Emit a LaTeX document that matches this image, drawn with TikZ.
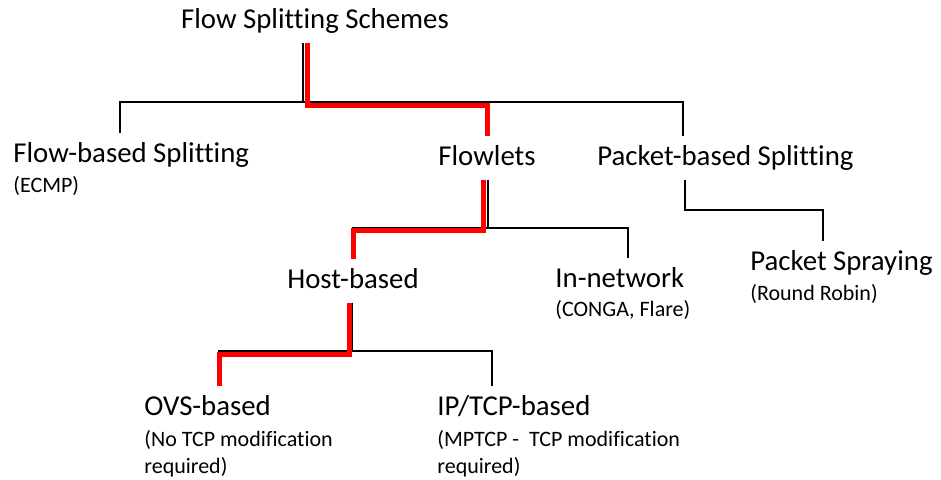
\documentclass[tikz,border=0pt]{standalone}
\usepackage{fontspec}
\setmainfont{Carlito}[Ligatures=NoCommon]
\begin{document}
\begin{tikzpicture}[x=0.5pt, y=-0.5pt, line join=miter,
    lbl/.style={font=\fontsize{14.4}{17}\selectfont, inner xsep=0pt, inner ysep=3.5pt,
      text height=10.8pt, text depth=3.6pt},
    note/.style={font=\fontsize{11}{13.5}\selectfont, inner sep=0pt, align=left},
    edge/.style={black, line width=1pt},
    hl/.style={red, line width=2.5pt}]
  \useasboundingbox (0,0) rectangle (941,479);

  % ====== Nodes ======
  \node[lbl, anchor=base] (root) at (315,28) {Flow Splitting Schemes};

  \node[lbl, anchor=base west] (fb) at (13,162) {Flow-based Splitting};
  \node[note, anchor=base west] (fbn) at (13,192) {(ECMP)};
  \node[lbl, anchor=base] (fl) at (487,165) {Flowlets};
  \node[lbl, anchor=base west] (pb) at (597,165) {Packet-based Splitting};

  \node[lbl, anchor=base] (hb) at (353,288) {Host-based};
  \node[lbl, anchor=base west] (in) at (555,287) {In-network};
  \node[note, anchor=base west] (inn) at (555,316) {(CONGA, Flare)};
  \node[lbl, anchor=base west] (ps) at (750,270) {Packet Spraying};
  \node[note, anchor=base west] (psn) at (750,300) {(Round Robin)};

  \node[lbl, anchor=base west] (ovs) at (144,415) {OVS-based};
  % two-line notes: base is the last line
  \node[note, anchor=base west] (ovsn) at (144,473) {(No TCP modification\\required)};
  \node[lbl, anchor=base west] (ip) at (437,415) {IP/TCP-based};
  \node[note, anchor=base west] (ipn) at (437,473) {(MPTCP -\ \ TCP modification\\required)};

  % ====== Bus points ======
  \coordinate (b1) at (303,102); \coordinate (dfb) at (120,102); \coordinate (dpb) at (683,102);
  \coordinate (b2) at (488,228); \coordinate (din) at (628,228);
  \coordinate (b3) at (685,210); \coordinate (dps) at (823,210);
  \coordinate (b4) at (352,351); \coordinate (dip) at (492,351); \coordinate (dovs) at (219,351);
  \coordinate (r1) at (307,105); \coordinate (r2) at (483,230); \coordinate (r4) at (349,354);

  % ====== Black tree ======
  \draw[edge] (root.south -| b1) -- (b1) -| (fb.north -| dfb);
  \draw[edge] (b1) -| (pb.north -| dpb);
  \draw[edge] (fl.south -| b2) -- (b2) -| (in.north -| din);
  \draw[edge] (b2) -| (hb.north);
  \draw[edge] (pb.south -| b3) -- (b3) -| (ps.north -| dps);
  \draw[edge] (hb.south -| b4) -- (b4) -| (ip.north -| dip);
  \draw[edge] (b4) -| (ovs.north -| dovs);

  % ====== Red path ======
  \draw[hl] (root.south -| r1) -- (r1) -| (fl.north);
  \draw[hl] (fl.south -| r2) -- (r2) -| (hb.north);
  \draw[hl] (hb.south -| r4) -- (r4) -| (ovs.north -| dovs);
\end{tikzpicture}
\end{document}
